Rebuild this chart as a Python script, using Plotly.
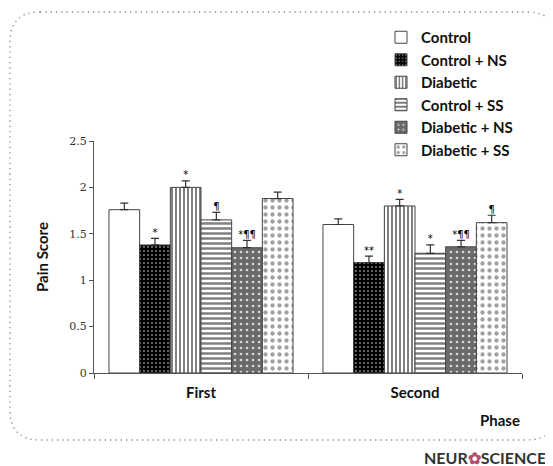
import plotly.graph_objects as go

phases = ["First", "Second"]
series = ["Control", "Control + NS", "Diabetic", "Control + SS", "Diabetic + NS", "Diabetic + SS"]
means = {
    "Control":       [1.76, 1.60],
    "Control + NS":  [1.38, 1.19],
    "Diabetic":      [2.00, 1.80],
    "Control + SS":  [1.65, 1.29],
    "Diabetic + NS": [1.35, 1.36],
    "Diabetic + SS": [1.88, 1.62],
}
errors = {
    "Control":       [0.07, 0.06],
    "Control + NS":  [0.07, 0.07],
    "Diabetic":      [0.07, 0.07],
    "Control + SS":  [0.08, 0.09],
    "Diabetic + NS": [0.08, 0.07],
    "Diabetic + SS": [0.07, 0.08],
}
marks = {
    "Control":       ["", ""],
    "Control + NS":  ["*", "**"],
    "Diabetic":      ["*", "*"],
    "Control + SS":  ["¶", "*"],
    "Diabetic + NS": ["*¶¶", "*¶¶"],
    "Diabetic + SS": ["", "¶"],
}
y_ticks = [0, 0.5, 1, 1.5, 2, 2.5]
y_tick_labels = ["0", "0.5", "1", "1.5", "2", "2.5"]

styles = {
    "Control":       dict(color="white", pattern=dict(shape="")),
    "Control + NS":  dict(color="black", pattern=dict(shape=".", fgcolor="#8a8a8a", bgcolor="black", size=4, solidity=0.18, fillmode="replace")),
    "Diabetic":      dict(color="white", pattern=dict(shape="|", fgcolor="black", bgcolor="white", size=4, solidity=0.5)),
    "Control + SS":  dict(color="white", pattern=dict(shape="-", fgcolor="black", bgcolor="white", size=5, solidity=0.5)),
    "Diabetic + NS": dict(color="#6a6a6a", pattern=dict(shape=".", fgcolor="#d8d8d8", bgcolor="#6a6a6a", size=6, solidity=0.15, fillmode="replace")),
    "Diabetic + SS": dict(color="white", pattern=dict(shape=".", fgcolor="#444444", bgcolor="white", size=7, solidity=0.3)),
}

W, H = 553, 466
OFF = 8  # page body margin
ML, MT = 86, 133
PW, PH = 428, 232
MR, MB = W - ML - PW, H - MT - PH

def px(x, y):
    """picture pixel -> paper coordinates"""
    return (x - OFF - ML) / PW, (H - MB - (y - OFF)) / PH

fig = go.Figure()
for i, s in enumerate(series):
    st = styles[s]
    fig.add_trace(go.Bar(
        x=phases, y=means[s], name=s, offsetgroup=str(i),
        marker=dict(color=st["color"], pattern=st["pattern"],
                    line=dict(color="#444444", width=1)),
        error_y=dict(type="data", array=errors[s], arrayminus=[0, 0], symmetric=False,
                     color="#333333", thickness=1.2, width=4),
    ))
for i, s in enumerate(series):
    fig.add_trace(go.Scatter(
        x=phases, y=[m + e for m, e in zip(means[s], errors[s])],
        text=marks[s], mode="text", textposition="top center", offsetgroup=str(i),
        textfont=dict(size=10, color="black", family="DejaVu Sans"),
        showlegend=False, hoverinfo="skip",
    ))

# dotted rounded border
x0, y0 = px(10, 12)
x1, y1 = px(557, 440)
rx, ry = 30 / PW, 30 / PH
path = (f"M {x0+rx} {y0} L {x1-rx} {y0} Q {x1} {y0} {x1} {y0-ry} "
        f"L {x1} {y1+ry} Q {x1} {y1} {x1-rx} {y1} L {x0+rx} {y1} "
        f"Q {x0} {y1} {x0} {y1+ry} L {x0} {y0-ry} Q {x0} {y0} {x0+rx} {y0} Z")
fig.add_shape(type="path", path=path, xref="paper", yref="paper",
              line=dict(color="#8a8a8a", width=1.3, dash="1.3px,4px"), layer="below")

lx, ly = px(381, 21)
phx, phy = px(500, 420)
nx, ny = px(422, 457)

fig.update_layout(
    width=W, height=H,
    margin=dict(l=ML, r=MR, t=MT, b=MB),
    paper_bgcolor="white", plot_bgcolor="white",
    barmode="group", bargap=0.14, bargroupgap=0, scattermode="group",
    font=dict(family="Lato", color="#111111"),
    showlegend=True,
    legend=dict(x=lx, y=ly, xanchor="left", yanchor="top",
                font=dict(family="Lato", size=15, color="#111111", weight="bold"),
                bgcolor="rgba(0,0,0,0)", itemwidth=30, tracegroupgap=0),
    xaxis=dict(showline=True, linecolor="#555555", linewidth=1.2,
               ticks="outside", tickson="boundaries", ticklen=5, tickcolor="#555555",
               ticklabelstandoff=6,
               tickfont=dict(family="Lato", size=15, color="#111111", weight="bold"),
               showgrid=False, zeroline=False),
    yaxis=dict(range=[0, 2.5], tickvals=y_ticks, ticktext=y_tick_labels,
               showline=True, linecolor="#555555", linewidth=1.2,
               ticks="outside", ticklen=4, tickcolor="#555555",
               tickfont=dict(family="DejaVu Serif", size=11, color="#333333"),
               showgrid=False, zeroline=False,
               title=dict(text="Pain Score", standoff=16,
                          font=dict(family="Lato", size=15, color="#111111", weight="bold"))),
    annotations=[
        dict(text="Phase", xref="paper", yref="paper", x=phx, y=phy,
             xanchor="center", yanchor="middle", showarrow=False,
             font=dict(family="Lato", size=15, color="#111111", weight="bold")),
        dict(text="NEUR<span style='color:#b0506a'>✿</span>SCIENCE", xref="paper", yref="paper",
             x=nx, y=ny, xanchor="left", yanchor="middle", showarrow=False,
             font=dict(family="Lato", size=16, color="#333333", weight="bold")),
    ],
)

fig.write_html("out.html")
